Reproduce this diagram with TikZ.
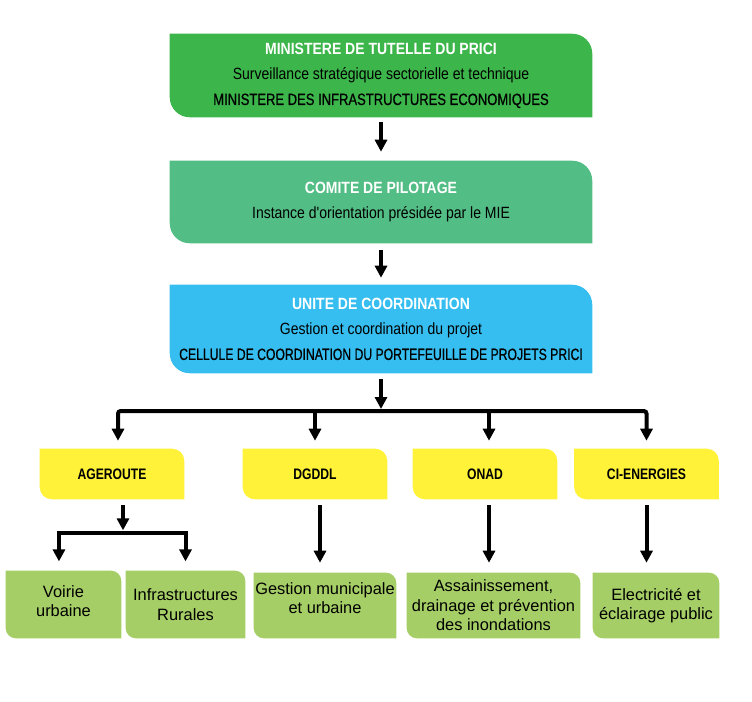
\documentclass[tikz,border=0pt]{standalone}
\usepackage{fontspec}
\setmainfont{Liberation Sans}
\newfontfamily\condA[FakeStretch=0.86]{Liberation Sans}
\newfontfamily\condB[FakeStretch=0.80,FakeBold=0.6]{Liberation Sans}
\newfontfamily\condC[FakeStretch=0.75,FakeBold=0.6]{Liberation Sans}
\newfontfamily\condY[FakeStretch=0.80]{Liberation Sans}
\usetikzlibrary{arrows.meta}
\pgfdeclarelayer{background}
\pgfsetlayers{background,main}
\definecolor{cMin}{HTML}{3CB54A}
\definecolor{cCom}{HTML}{52BD84}
\definecolor{cUni}{HTML}{36BEF0}
\definecolor{cYel}{HTML}{FFF238}
\definecolor{cGrn}{HTML}{A5CE66}
\newcommand\dgfill[3]{%
  \begin{pgfonlayer}{background}
  \fill[#2] (#1.north west) -- ([xshift=-#3]#1.north east)
    arc[start angle=90,end angle=0,radius=#3] -- (#1.south east)
    -- ([xshift=#3]#1.south west)
    arc[start angle=270,end angle=180,radius=#3] -- cycle;
  \end{pgfonlayer}}
\newcommand\capsB[1]{{\condB #1}}
\newcommand\capsC[1]{{\condC #1}}
\newcommand\ttlw[1]{{\bfseries\color{white}#1}}
\tikzset{
  bigbox/.style={inner sep=0pt, minimum width=316.5pt, align=center,
    font=\condA\fontsize{12.2}{19}\selectfont},
  yelbox/.style={inner sep=0pt, minimum width=108pt, minimum height=37.5pt,
    align=center, font=\condY\bfseries\fontsize{11.4}{13}\selectfont},
  grnbox/.style={inner sep=0pt, align=center,
    font=\fontsize{12.3}{14.6}\selectfont},
  grntext/.style={inner sep=0pt, align=center,
    font=\fontsize{12.3}{14.2}\selectfont},
  arr/.style={line width=3pt, -{Triangle[width=9pt,length=9pt]}}
}
\begin{document}
\begin{tikzpicture}[x=0.75pt,y=-0.75pt]
\path[use as bounding box] (0,0) rectangle (752,702);

% top boxes
\node[bigbox, minimum height=62.25pt] (b1) at (381,75.5)
  {\ttlw{MINISTERE DE TUTELLE DU PRICI}\\
   Surveillance stratégique sectorielle et technique\\
   \capsB{MINISTERE DES INFRASTRUCTURES ECONOMIQUES}};
\dgfill{b1}{cMin}{15pt}

\node[bigbox, minimum height=61.5pt] (b2) at (381,202)
  {\ttlw{COMITE DE PILOTAGE}\\
   Instance d'orientation présidée par le MIE};
\dgfill{b2}{cCom}{15pt}

\node[bigbox, minimum height=66pt] (b3) at (381,329)
  {\ttlw{UNITE DE COORDINATION}\\
   Gestion et coordination du projet\\
   \capsC{CELLULE DE COORDINATION DU PORTEFEUILLE DE PROJETS PRICI}};
\dgfill{b3}{cUni}{15pt}

% yellow boxes
\node[yelbox] (y1) at (112,474) {AGEROUTE};
\dgfill{y1}{cYel}{9pt}
\node[yelbox] (y2) at (315,474) {DGDDL};
\dgfill{y2}{cYel}{9pt}
\node[yelbox] (y3) at (485,474) {ONAD};
\dgfill{y3}{cYel}{9pt}
\node[yelbox] (y4) at (646.5,474) {CI-ENERGIES};
\dgfill{y4}{cYel}{9pt}

% green boxes
\node[grnbox, minimum width=86.25pt, minimum height=50.25pt,
  label={[grntext, yshift=2.5pt]center:Voirie\\urbaine}] (g1) at (63.5,604.5) {};
\dgfill{g1}{cGrn}{7.5pt}
\node[grnbox, minimum width=89.25pt, minimum height=50.25pt] (g2) at (185.5,604.5)
  {Infrastructures\\Rurales};
\dgfill{g2}{cGrn}{7.5pt}
\node[grnbox, minimum width=106.5pt, minimum height=48.75pt,
  label={[grntext, yshift=5.5pt]center:Gestion municipale\\et urbaine}] (g3) at (325,605.5) {};
\dgfill{g3}{cGrn}{7.5pt}
\node[grnbox, minimum width=129.75pt, minimum height=48.75pt] (g4) at (493.5,605.5)
  {Assainissement,\\drainage et prévention\\des inondations};
\dgfill{g4}{cGrn}{7.5pt}
\node[grnbox, minimum width=94.5pt, minimum height=48.75pt] (g5) at (656,605.5)
  {Electricité et\\éclairage public};
\dgfill{g5}{cGrn}{7.5pt}

% connectors
\coordinate (bus) at (381,411);
\coordinate (split) at (123,533);

\draw[arr, shorten <=3.75pt, shorten >=6.75pt] (b1) -- (b2);
\draw[arr, shorten <=5.25pt, shorten >=5.25pt] (b2) -- (b3);
\draw[arr, shorten <=4.5pt, shorten >=1.5pt] (b3) -- (bus);

\draw[arr, shorten >=6pt, rounded corners=2pt] (bus) -| ([xshift=4.5pt]y1.north);
\draw[arr, shorten >=6pt] (bus) -| (y2.north);
\draw[arr, shorten >=6pt] (bus) -| ([xshift=3pt]y3.north);
\draw[arr, shorten >=6pt, rounded corners=2pt] (bus) -| (y4.north);

\draw[arr, shorten <=4.5pt, shorten >=2pt] ([xshift=8.25pt]y1.south) -- (split);
\draw[arr, shorten >=7pt] (split) -| ([xshift=-3.4pt]g1.north);
\draw[arr, shorten >=7pt] (split) -| (g2.north);

\draw[arr, shorten <=4.5pt, shorten >=7.5pt] ([xshift=3.75pt]y2.south) -- ([xshift=3.75pt]y2.south |- g3.north);
\draw[arr, shorten <=4.5pt, shorten >=7.5pt] ([xshift=3pt]y3.south) -- ([xshift=3pt]y3.south |- g4.north);
\draw[arr, shorten <=4.5pt, shorten >=7.5pt] (y4.south) -- (y4.south |- g5.north);
\end{tikzpicture}
\end{document}
